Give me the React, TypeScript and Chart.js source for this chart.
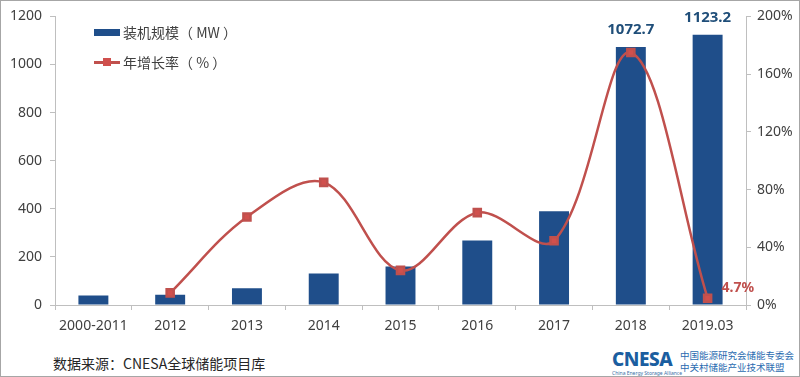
import React, { useEffect, useRef } from "react";
import { Chart, registerables } from "chart.js";

Chart.register(...registerables);

const categories = ["2000-2011", "2012", "2013", "2014", "2015", "2016", "2017", "2018", "2019.03"];
const capacity = [39, 43, 70, 131, 160, 268, 389.8, 1072.7, 1123.2];
const growth = [null, 8.4, 61, 85, 24, 64, 44.5, 175, 4.7];
const leftTicks = [0, 200, 400, 600, 800, 1000, 1200];
const rightTicks = [0, 40, 80, 120, 160, 200];
const barLabelIndexes = [7, 8];
const lineLabelIndexes = [8];

const BAR_COLOR = "#1F4E8A";
const LINE_COLOR = "#C0504D";
const TEXT_COLOR = "#404040";
const AXIS_COLOR = "#BFBFBF";
const FONT = "'Noto Sans', 'Noto Sans CJK SC', sans-serif";
const CJK = "'Noto Sans CJK SC', 'Noto Sans', sans-serif";

const labelPlugin = {
  id: "valueLabels",
  afterDatasetsDraw(chart: any) {
    const ctx = chart.ctx;
    ctx.save();
    const barMeta = chart.getDatasetMeta(0);
    ctx.font = "bold 15px " + FONT;
    ctx.fillStyle = "#1F4E79";
    ctx.textAlign = "center";
    ctx.textBaseline = "bottom";
    barLabelIndexes.forEach((i) => {
      const el = barMeta.data[i];
      ctx.fillText(String(capacity[i]), el.x, el.y - 10);
    });
    const lineMeta = chart.getDatasetMeta(1);
    ctx.font = "bold 14px " + FONT;
    ctx.fillStyle = LINE_COLOR;
    ctx.textAlign = "left";
    ctx.textBaseline = "middle";
    lineLabelIndexes.forEach((i) => {
      const el = lineMeta.data[i];
      ctx.fillText(String(growth[i]) + "%", el.x + 14, el.y - 10);
    });
    ctx.restore();
  },
};

export default function App() {
  const canvasRef = useRef<HTMLCanvasElement | null>(null);

  useEffect(() => {
    if (!canvasRef.current) return;
    const chart = new Chart(canvasRef.current, {
      type: "bar",
      data: {
        labels: categories,
        datasets: [
          {
            type: "bar",
            label: "装机规模（MW）",
            data: capacity,
            backgroundColor: BAR_COLOR,
            yAxisID: "y",
            categoryPercentage: 1,
            barPercentage: 0.39,
            order: 2,
          },
          {
            type: "line",
            label: "年增长率（%）",
            data: growth as any,
            borderColor: LINE_COLOR,
            backgroundColor: "#D0504D",
            borderWidth: 2.5,
            pointStyle: "rect",
            pointRadius: 5,
            tension: 0.35,
            yAxisID: "y1",
            order: 1,
          } as any,
        ],
      },
      options: {
        responsive: false,
        animation: false,
        layout: { padding: { top: 16, left: 0, right: 0, bottom: 0 } },
        plugins: { legend: { display: false }, tooltip: { enabled: false } },
        scales: {
          x: {
            offset: true,
            afterFit: (s: any) => { s.height = 40; },
            border: { color: AXIS_COLOR, width: 1 },
            grid: { offset: true, drawOnChartArea: false, drawTicks: true, tickLength: 5, color: AXIS_COLOR },
            ticks: { color: TEXT_COLOR, font: { size: 14, family: FONT }, padding: 8, maxRotation: 0, autoSkip: false },
          },
          y: {
            position: "left",
            min: 0,
            max: 1200,
            afterFit: (s: any) => { s.width = 55; },
            afterBuildTicks: (s: any) => { s.ticks = leftTicks.map((v) => ({ value: v })); },
            border: { color: AXIS_COLOR, width: 1 },
            grid: { drawOnChartArea: false, drawTicks: true, tickLength: 5, color: AXIS_COLOR },
            ticks: { color: TEXT_COLOR, font: { size: 14, family: FONT }, padding: 8, callback: (v: any) => String(v) },
          },
          y1: {
            position: "right",
            min: 0,
            max: 200,
            afterFit: (s: any) => { s.width = 54; },
            afterBuildTicks: (s: any) => { s.ticks = rightTicks.map((v) => ({ value: v })); },
            border: { color: AXIS_COLOR, width: 1 },
            grid: { drawOnChartArea: false, drawTicks: true, tickLength: 5, color: AXIS_COLOR },
            ticks: { color: TEXT_COLOR, font: { size: 14, family: FONT }, padding: 6, callback: (v: any) => v + "%" },
          },
        },
      },
      plugins: [labelPlugin],
    });
    return () => chart.destroy();
  }, []);

  return (
    <div style={{ position: "fixed", left: 0, top: 0, width: 800, height: 377, background: "#fff", border: "1px solid #A6A6A6", boxSizing: "border-box", overflow: "hidden" }}>
      <canvas ref={canvasRef} width={800} height={345} style={{ position: "absolute", left: -1, top: -1 }} />
      <div style={{ position: "absolute", left: 93, top: 19, fontFamily: CJK, fontSize: 14, color: TEXT_COLOR }}>
        <div style={{ display: "flex", alignItems: "center", height: 24 }}>
          <span style={{ display: "inline-block", width: 26, height: 7, background: BAR_COLOR, marginRight: 3 }} />
          <span>装机规模（ MW ）</span>
        </div>
        <div style={{ display: "flex", alignItems: "center", height: 24, marginTop: 6 }}>
          <span style={{ position: "relative", display: "inline-block", width: 26, height: 10, marginRight: 3 }}>
            <span style={{ position: "absolute", left: 0, top: 4, width: 26, height: 2.5, background: LINE_COLOR }} />
            <span style={{ position: "absolute", left: 9, top: 1, width: 8, height: 8, background: "#D0504D" }} />
          </span>
          <span>年增长率（ % ）</span>
        </div>
      </div>
      <div style={{ position: "absolute", left: 52, top: 352, fontFamily: CJK, fontSize: 14, color: "#262626", whiteSpace: "nowrap" }}>
        数据来源：CNESA全球储能项目库
      </div>
      <div style={{ position: "absolute", left: 611, top: 347, width: 64, fontFamily: FONT, color: "#1B5EA0" }}>
        <div style={{ fontSize: 19, fontWeight: 800, lineHeight: "22px", letterSpacing: -0.5 }}>CNESA</div>
        <div style={{ fontSize: 5, lineHeight: "6px", whiteSpace: "nowrap", color: "#3A6EA5" }}>China Energy Storage Alliance</div>
      </div>
      <div style={{ position: "absolute", left: 679, top: 348, fontFamily: CJK, fontSize: 9.5, lineHeight: "12px", color: "#2A6BB0", whiteSpace: "nowrap" }}>
        <div>中国能源研究会储能专委会</div>
        <div>中关村储能产业技术联盟</div>
      </div>
    </div>
  );
}
